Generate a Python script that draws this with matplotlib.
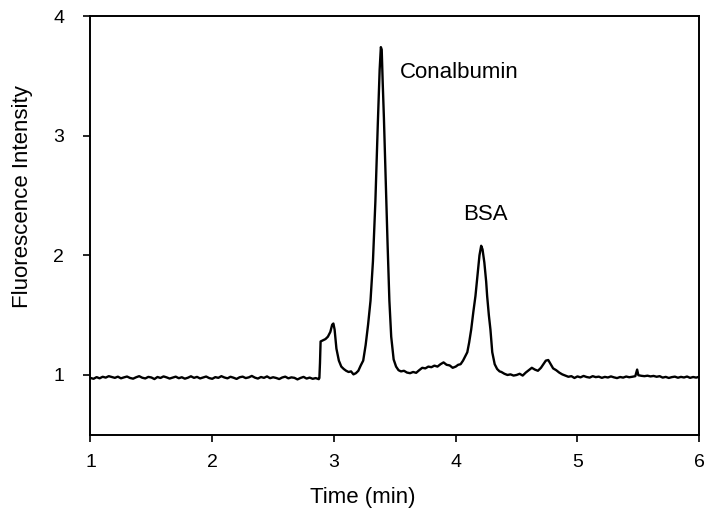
import numpy as np
import matplotlib.pyplot as plt

plt.rcParams['font.family'] = ['Liberation Sans', 'DejaVu Sans']

# flat baseline before the first peak (time in min, intensity)
base1_t = [1.000, 1.025, 1.050, 1.075, 1.100, 1.125, 1.150, 1.175, 1.200, 1.225,
           1.250, 1.275, 1.300, 1.325, 1.350, 1.375, 1.400, 1.425, 1.450, 1.475,
           1.500, 1.525, 1.550, 1.575, 1.600, 1.625, 1.650, 1.675, 1.700, 1.725,
           1.750, 1.775, 1.800, 1.825, 1.850, 1.875, 1.900, 1.925, 1.950, 1.975,
           2.000, 2.025, 2.050, 2.075, 2.100, 2.125, 2.150, 2.175, 2.200, 2.225,
           2.250, 2.275, 2.300, 2.325, 2.350, 2.375, 2.400, 2.425, 2.450, 2.475,
           2.500, 2.525, 2.550, 2.575, 2.600, 2.625, 2.650, 2.675, 2.700, 2.725,
           2.750, 2.775, 2.800, 2.825, 2.850, 2.875]
base1_y = [0.975, 0.968, 0.982, 0.972, 0.985, 0.978, 0.990, 0.983, 0.976, 0.986,
           0.972, 0.980, 0.987, 0.975, 0.969, 0.981, 0.990, 0.977, 0.971, 0.984,
           0.979, 0.966, 0.983, 0.975, 0.988, 0.980, 0.970, 0.978, 0.986, 0.973,
           0.981, 0.969, 0.977, 0.989, 0.976, 0.984, 0.971, 0.979, 0.987, 0.974,
           0.968, 0.982, 0.976, 0.990, 0.979, 0.972, 0.985, 0.977, 0.967, 0.981,
           0.986, 0.974, 0.980, 0.992, 0.978, 0.970, 0.983, 0.976, 0.988, 0.973,
           0.981, 0.975, 0.966, 0.979, 0.986, 0.972, 0.980, 0.976, 0.963, 0.975,
           0.984, 0.970, 0.978, 0.968, 0.974, 0.965]

# shoulder at ~3 min and the conalbumin peak
peak1_t = [2.880, 2.885, 2.890, 2.910, 2.930, 2.950, 2.970, 2.985, 2.995, 3.005,
           3.020, 3.040, 3.060, 3.080, 3.100, 3.120, 3.140, 3.160, 3.180, 3.200,
           3.220, 3.240, 3.260, 3.280, 3.300, 3.320, 3.340, 3.360, 3.375, 3.385,
           3.392, 3.400, 3.410, 3.425, 3.440, 3.455, 3.470, 3.490, 3.510, 3.530,
           3.550]
peak1_y = [0.975, 1.100, 1.280, 1.290, 1.300, 1.320, 1.360, 1.420, 1.430, 1.380,
           1.220, 1.120, 1.070, 1.050, 1.035, 1.025, 1.030, 1.005, 1.015, 1.035,
           1.080, 1.120, 1.250, 1.420, 1.620, 1.950, 2.450, 3.100, 3.550, 3.740,
           3.720, 3.450, 3.150, 2.620, 2.100, 1.620, 1.320, 1.130, 1.070, 1.040,
           1.030]

# between the peaks
mid_t = [3.575, 3.600, 3.625, 3.650, 3.675, 3.700, 3.725, 3.750, 3.775, 3.800,
         3.825, 3.850, 3.875, 3.900, 3.925, 3.950, 3.975, 4.000, 4.020]
mid_y = [1.035, 1.020, 1.015, 1.025, 1.018, 1.040, 1.060, 1.055, 1.070, 1.065,
         1.078, 1.070, 1.090, 1.105, 1.085, 1.080, 1.060, 1.070, 1.085]

# BSA peak and the small bumps after it
peak2_t = [4.040, 4.060, 4.080, 4.095, 4.110, 4.127, 4.145, 4.162, 4.180, 4.195,
           4.209, 4.220, 4.235, 4.250, 4.258, 4.272, 4.285, 4.300, 4.320, 4.340,
           4.360, 4.375, 4.400, 4.425, 4.450, 4.475, 4.500, 4.525, 4.550, 4.575,
           4.600, 4.625, 4.650, 4.675, 4.700, 4.720, 4.740, 4.760, 4.780, 4.800,
           4.825, 4.850, 4.875]
peak2_y = [1.090, 1.120, 1.160, 1.190, 1.270, 1.380, 1.530, 1.660, 1.850, 2.000,
           2.080, 2.050, 1.940, 1.780, 1.660, 1.500, 1.380, 1.190, 1.090, 1.050,
           1.030, 1.025, 1.010, 1.000, 1.005, 0.995, 1.000, 1.010, 0.995, 1.020,
           1.040, 1.060, 1.045, 1.035, 1.060, 1.090, 1.120, 1.125, 1.090, 1.055,
           1.040, 1.020, 1.005]

# tail baseline to 6 min
base2_t = [4.900, 4.925, 4.950, 4.975, 5.000, 5.025, 5.050, 5.075, 5.100, 5.125,
           5.150, 5.175, 5.200, 5.225, 5.250, 5.275, 5.300, 5.325, 5.350, 5.375,
           5.400, 5.425, 5.450, 5.475, 5.490, 5.500, 5.525, 5.550, 5.575, 5.600,
           5.625, 5.650, 5.675, 5.700, 5.725, 5.750, 5.775, 5.800, 5.825, 5.850,
           5.875, 5.900, 5.925, 5.950, 5.975, 6.000]
base2_y = [0.995, 0.985, 0.990, 0.975, 0.988, 0.980, 0.992, 0.983, 0.978, 0.990,
           0.982, 0.986, 0.976, 0.984, 0.979, 0.988, 0.980, 0.974, 0.983, 0.978,
           0.987, 0.981, 0.985, 0.990, 1.045, 0.998, 0.993, 0.990, 0.994, 0.988,
           0.992, 0.985, 0.990, 0.978, 0.984, 0.975, 0.982, 0.986, 0.977, 0.984,
           0.979, 0.987, 0.976, 0.983, 0.978, 0.985]

time = np.concatenate([base1_t, peak1_t, mid_t, peak2_t, base2_t])
intensity = np.concatenate([base1_y, peak1_y, mid_y, peak2_y, base2_y])

x_ticks = [1, 2, 3, 4, 5, 6]
y_ticks = [1, 2, 3, 4]
labels = [('Conalbumin', 4.03, 3.525), ('BSA', 4.244, 2.34)]

fig = plt.figure(figsize=(7.07, 5.17), dpi=100)
ax = fig.add_axes([0.128, 0.159, 0.861, 0.81])
ax.plot(time, intensity, color='black', lw=1.7)

for name, x, y in labels:
    ax.text(x, y, name, fontsize=16, ha='center', va='center')

ax.set_xlim(1, 6)
ax.set_ylim(0.5, 4)
ax.set_xticks(x_ticks)
ax.set_yticks(y_ticks)
ax.tick_params(direction='out', length=5, width=1.2, labelsize=14)
ax.tick_params(axis='y', pad=14)
ax.tick_params(axis='x', pad=9)
for s in ax.spines.values():
    s.set_linewidth(1.4)

ax.set_xlabel('Time (min)', fontsize=16)
ax.set_ylabel('Fluorescence Intensity', fontsize=16)
# labels in the original sit off-centre
ax.xaxis.set_label_coords(0.448, -0.125)
ax.yaxis.set_label_coords(-0.095, 0.57)

fig.savefig('out.png', dpi=100)
